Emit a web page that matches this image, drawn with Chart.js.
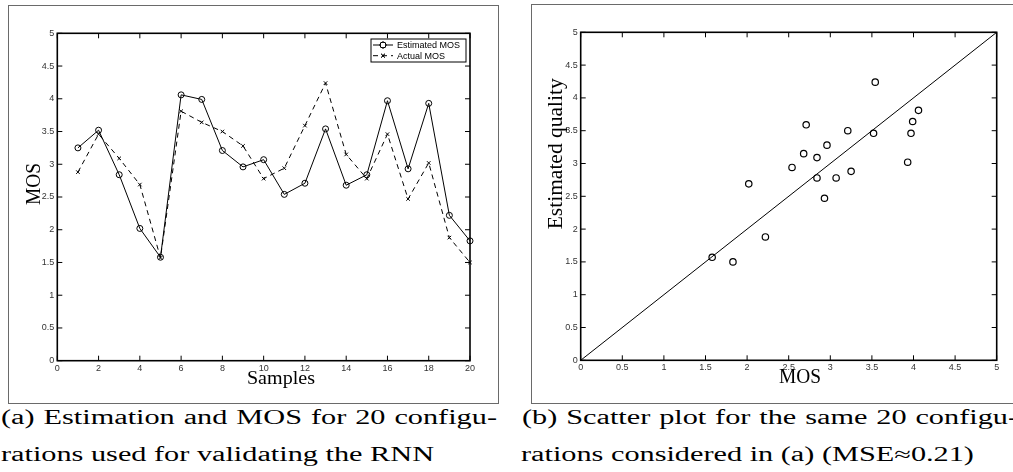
<!DOCTYPE html>
<html>
<head>
<meta charset="utf-8">
<script src="https://cdn.jsdelivr.net/npm/chart.js@4.4.1/dist/chart.umd.min.js"></script>
<style>
  body { margin: 0; width: 1013px; height: 472px; overflow: hidden; background: #fff; position: relative; }
  .frame { position: absolute; border: 1.5px solid #6a6a6a; box-sizing: border-box; }
  canvas { position: absolute; }
  .cap { position: absolute; font-family: "Liberation Serif", serif; font-size: 20px; line-height: 20px;
         color: #000; transform-origin: 0 0; white-space: normal; }
  .cap.just { text-align: justify; text-align-last: justify; }
</style>
</head>
<body>
<div class="frame" style="left:8px;top:5px;width:491px;height:399px;"></div>
<div class="frame" style="left:531px;top:4px;width:500px;height:400px;"></div>
<canvas id="grafica1" width="491" height="399" style="left:8px;top:5px;"></canvas>
<canvas id="grafica2" width="482" height="400" style="left:531px;top:4px;"></canvas>

<div class="cap just" id="capA1" style="left:1px;top:407px;"><span>(a) Estimation and MOS for 20 configu-</span></div>
<div class="cap" id="capA2" style="left:1px;top:444px;"><span>rations used for validating the RNN</span></div>
<div class="cap just" id="capB1" style="left:522px;top:407px;"><span>(b) Scatter plot for the same 20 configu-</span></div>
<div class="cap" id="capB2" style="left:521px;top:444px;"><span>rations considered in (a) (MSE≈0.21)</span></div>

<script>
// datos
let samples = [1, 2, 3, 4, 5, 6, 7, 8, 9, 10, 11, 12, 13, 14, 15, 16, 17, 18, 19, 20];
let estimatedMOS = [3.25, 3.52, 2.84, 2.02, 1.58, 4.06, 3.99, 3.21, 2.96, 3.07,
                    2.54, 2.71, 3.54, 2.68, 2.84, 3.97, 2.93, 3.93, 2.22, 1.83];
let actualMOS = [2.88, 3.46, 3.09, 2.69, 1.57, 3.81, 3.64, 3.50, 3.28, 2.78,
                 2.94, 3.59, 4.24, 3.15, 2.78, 3.46, 2.47, 3.02, 1.88, 1.50];
let diagonal = [0, 5];

let tickFont = { family: "Liberation Sans", size: 9 };
let tickColor = "#333";

// caja de ejes con marcas hacia adentro (estilo matlab)
const cajaEjes = {
  id: "cajaEjes",
  afterDraw(chart) {
    let ctx = chart.ctx;
    let a = chart.chartArea;
    let x = chart.scales.x;
    let y = chart.scales.y;
    ctx.save();
    ctx.strokeStyle = "#000";
    ctx.lineWidth = 1;
    ctx.beginPath();
    x.ticks.forEach(function (t) {
      let px = x.getPixelForValue(t.value);
      ctx.moveTo(px, a.bottom); ctx.lineTo(px, a.bottom - 5);
      ctx.moveTo(px, a.top); ctx.lineTo(px, a.top + 5);
    });
    y.ticks.forEach(function (t) {
      let py = y.getPixelForValue(t.value);
      ctx.moveTo(a.left, py); ctx.lineTo(a.left + 5, py);
      ctx.moveTo(a.right, py); ctx.lineTo(a.right - 5, py);
    });
    ctx.stroke();
    ctx.lineWidth = 1.6;
    ctx.strokeRect(a.left, a.top, a.right - a.left, a.bottom - a.top);
    ctx.restore();
  }
};

function textoAjustado(ctx, texto, x, y, ancho, rot) {
  ctx.save();
  ctx.translate(x, y);
  ctx.rotate(rot);
  let m = ctx.measureText(texto).width;
  ctx.scale(ancho / m, 1);
  ctx.fillText(texto, 0, 0);
  ctx.restore();
}

// titulos de ejes en serif, colocados respecto al area del grafico
const titulos = {
  id: "titulos",
  afterDraw(chart, args, opts) {
    let ctx = chart.ctx;
    let a = chart.chartArea;
    ctx.save();
    ctx.fillStyle = "#000";
    ctx.textAlign = "center";
    ctx.textBaseline = "alphabetic";
    ctx.font = opts.xSize + 'px "Liberation Serif"';
    textoAjustado(ctx, opts.xText, (a.left + a.right) / 2 + opts.xDx, a.bottom + opts.xDy, opts.xW, 0);
    ctx.font = '20px "Liberation Serif"';
    textoAjustado(ctx, opts.yText, a.left + opts.yDx, (a.top + a.bottom) / 2 + opts.yDy, opts.yW, -Math.PI / 2);
    ctx.restore();
  }
};

// leyenda con borde dentro del area
const leyenda = {
  id: "leyenda",
  afterDraw(chart, args, opts) {
    if (!opts.show) return;
    let ctx = chart.ctx;
    let a = chart.chartArea;
    let w = 95, h = 23;
    let bx = a.right - 4 - w;
    let by = a.top + 5.7;
    ctx.save();
    ctx.fillStyle = "#fff";
    ctx.fillRect(bx, by, w, h);
    ctx.strokeStyle = "#000";
    ctx.lineWidth = 1;
    ctx.strokeRect(bx, by, w, h);
    ctx.font = '9px "Liberation Sans"';
    ctx.textBaseline = "middle";
    chart.data.datasets.forEach(function (ds, i) {
      let cy = by + 6 + i * 10.7;
      ctx.beginPath();
      ctx.setLineDash(ds.borderDash || []);
      ctx.lineWidth = 1;
      ctx.moveTo(bx + 2, cy);
      ctx.lineTo(bx + 22, cy);
      ctx.stroke();
      ctx.setLineDash([]);
      Chart.helpers.drawPoint(ctx, { pointStyle: ds.pointStyle, radius: ds.pointRadius, rotation: 0, borderWidth: 1 }, bx + 12, cy);
      ctx.stroke();
      ctx.fillStyle = "#000";
      ctx.fillText(ds.label, bx + 26, cy + 0.5);
    });
    ctx.restore();
  }
};

function ejes(xMax, xStep, yW, xH) {
  return {
    x: {
      type: "linear", min: 0, max: xMax,
      ticks: { stepSize: xStep, font: tickFont, color: tickColor, padding: 2, maxRotation: 0,
               callback: function (v) { return String(v); } },
      grid: { display: false, drawTicks: false },
      border: { display: false },
      afterFit: function (s) { s.height = xH; }
    },
    y: {
      type: "linear", min: 0, max: 5,
      ticks: { stepSize: 0.5, font: tickFont, color: tickColor, padding: 3,
               callback: function (v) { return String(v); } },
      grid: { display: false, drawTicks: false },
      border: { display: false },
      afterFit: function (s) { s.width = yW; }
    }
  };
}

let puntosEst = samples.map(function (s, i) { return { x: s, y: estimatedMOS[i] }; });
let puntosAct = samples.map(function (s, i) { return { x: s, y: actualMOS[i] }; });

new Chart("grafica1", {
  type: "line",
  data: {
    datasets: [
      {
        label: "Estimated MOS",
        data: puntosEst,
        borderColor: "#000",
        borderWidth: 1,
        pointStyle: "circle",
        pointRadius: 3,
        pointBorderColor: "#000",
        pointBackgroundColor: "rgba(0,0,0,0)",
        pointBorderWidth: 1,
        clip: false
      },
      {
        label: "Actual MOS",
        data: puntosAct,
        borderColor: "#000",
        borderWidth: 1,
        borderDash: [5, 4],
        pointStyle: "crossRot",
        pointRadius: 2.5,
        pointBorderColor: "#000",
        pointBorderWidth: 1,
        clip: false
      }
    ]
  },
  options: {
    responsive: false,
    animation: false,
    devicePixelRatio: 1,
    layout: { padding: { top: 28.3, right: 29, left: 0, bottom: 0 } },
    scales: ejes(20, 2, 49.3, 43.3),
    plugins: {
      legend: { display: false },
      tooltip: { enabled: false },
      leyenda: { show: true },
      titulos: { xText: "Samples", xSize: 18, xDx: 17.3, xDy: 23, xW: 68,
                 yText: "MOS", yDx: -17.3, yDy: -13, yW: 42 }
    }
  },
  plugins: [cajaEjes, titulos, leyenda]
});

new Chart("grafica2", {
  type: "scatter",
  data: {
    datasets: [
      {
        label: "Estimated quality",
        data: estimatedMOS.map(function (v, i) { return { x: v, y: actualMOS[i] }; }),
        pointStyle: "circle",
        pointRadius: 3.2,
        pointBorderColor: "#000",
        pointBackgroundColor: "rgba(0,0,0,0)",
        pointBorderWidth: 1.2,
        clip: false
      },
      {
        type: "line",
        label: "y = x",
        data: diagonal.map(function (v) { return { x: v, y: v }; }),
        borderColor: "#000",
        borderWidth: 1,
        pointRadius: 0
      }
    ]
  },
  options: {
    responsive: false,
    animation: false,
    devicePixelRatio: 1,
    layout: { padding: { top: 28.3, right: 16.3, left: 0, bottom: 0 } },
    scales: ejes(5, 0.5, 49.7, 43.7),
    plugins: {
      legend: { display: false },
      tooltip: { enabled: false },
      leyenda: { show: false },
      titulos: { xText: "MOS", xSize: 20, xDx: 11.3, xDy: 23, xW: 42,
                 yText: "Estimated quality", yDx: -19, yDy: -42.5, yW: 151 }
    }
  },
  plugins: [cajaEjes, titulos, leyenda]
});

// leyendas del pie: ancho ajustado como en la figura
function ajustarPie() {
  let ref = document.querySelector("#capA2 span").getBoundingClientRect().width;
  let esc = 433 / ref;
  ["capA1", "capA2", "capB1", "capB2"].forEach(function (id) {
    let el = document.getElementById(id);
    el.style.transform = "scaleX(" + esc + ")";
    if (el.classList.contains("just")) {
      el.style.width = (496 / esc) + "px";
    }
  });
}
ajustarPie();
</script>
</body>
</html>
